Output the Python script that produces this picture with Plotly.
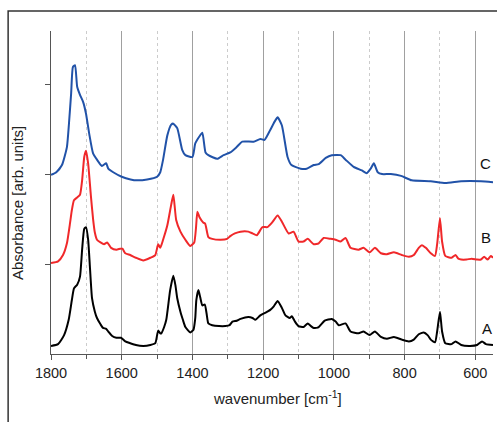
import plotly.graph_objects as go

# ---- data (wavenumber in cm^-1, absorbance with stacking offsets as plotted) ----
wn_a = [1800, 1780, 1763, 1750, 1741, 1735, 1726, 1718, 1712, 1706, 1701, 1695, 1690, 1684, 1676, 1670,
        1660, 1653, 1644, 1638, 1627, 1615, 1602, 1590, 1576, 1560, 1539, 1519, 1505, 1497, 1491, 1488,
        1480, 1474, 1463, 1454, 1448, 1443, 1434, 1427, 1420, 1406, 1397, 1392, 1389, 1383, 1378, 1372,
        1365, 1360, 1355, 1344, 1325, 1307, 1295, 1287, 1275, 1264, 1242, 1230, 1222, 1208, 1193, 1180,
        1170, 1159, 1148, 1137, 1125, 1119, 1110, 1100, 1086, 1074, 1065, 1057, 1043, 1026, 1006, 995,
        986, 967, 953, 930, 916, 899, 884, 867, 850, 830, 808, 788, 774, 760, 746, 735, 726, 714, 708,
        700, 694, 685, 667, 656, 640, 615, 595, 581, 570, 550]
abs_a = [0.09, 0.11, 0.21, 0.38, 0.60, 0.73, 0.77, 0.86, 1.16, 1.39, 1.41, 1.27, 0.97, 0.62, 0.47, 0.40,
         0.33, 0.29, 0.28, 0.25, 0.20, 0.18, 0.18, 0.14, 0.12, 0.10, 0.09, 0.10, 0.12, 0.26, 0.23, 0.23,
         0.30, 0.38, 0.71, 0.87, 0.76, 0.62, 0.47, 0.38, 0.30, 0.24, 0.27, 0.40, 0.60, 0.71, 0.63, 0.54,
         0.55, 0.45, 0.34, 0.32, 0.31, 0.31, 0.32, 0.36, 0.37, 0.39, 0.41, 0.40, 0.38, 0.43, 0.46, 0.49,
         0.53, 0.59, 0.52, 0.43, 0.40, 0.42, 0.36, 0.31, 0.30, 0.34, 0.31, 0.29, 0.30, 0.37, 0.39, 0.36,
         0.32, 0.34, 0.25, 0.23, 0.25, 0.21, 0.25, 0.19, 0.17, 0.19, 0.16, 0.14, 0.16, 0.22, 0.24, 0.21,
         0.16, 0.13, 0.25, 0.47, 0.25, 0.12, 0.11, 0.14, 0.10, 0.09, 0.10, 0.14, 0.11, 0.10]

wn_b = [1800, 1780, 1766, 1755, 1746, 1741, 1735, 1726, 1718, 1712, 1706, 1701, 1695, 1687, 1681, 1676,
        1670, 1660, 1650, 1641, 1630, 1615, 1604, 1598, 1590, 1576, 1560, 1539, 1519, 1505, 1497, 1491,
        1483, 1471, 1460, 1454, 1446, 1434, 1420, 1406, 1395, 1390, 1386, 1380, 1369, 1364, 1355, 1344,
        1320, 1302, 1293, 1280, 1264, 1242, 1230, 1218, 1202, 1188, 1175, 1159, 1147, 1128, 1114, 1100,
        1086, 1074, 1057, 1043, 1029, 1009, 995, 981, 967, 953, 930, 916, 899, 884, 867, 850, 830, 808,
        788, 774, 760, 751, 740, 726, 714, 708, 700, 694, 685, 667, 656, 648, 640, 625, 610, 595, 584,
        575, 565, 556, 550]
abs_b = [1.01, 1.03, 1.10, 1.23, 1.46, 1.60, 1.71, 1.74, 1.77, 1.93, 2.19, 2.26, 2.12, 1.75, 1.50, 1.35,
         1.27, 1.24, 1.22, 1.24, 1.18, 1.16, 1.17, 1.17, 1.12, 1.10, 1.07, 1.04, 1.07, 1.10, 1.22, 1.18,
         1.27, 1.43, 1.66, 1.77, 1.49, 1.36, 1.27, 1.20, 1.24, 1.40, 1.58, 1.52, 1.46, 1.45, 1.30, 1.28,
         1.27, 1.28, 1.31, 1.34, 1.36, 1.36, 1.34, 1.32, 1.41, 1.41, 1.46, 1.54, 1.47, 1.34, 1.36, 1.25,
         1.25, 1.28, 1.22, 1.23, 1.29, 1.28, 1.27, 1.25, 1.29, 1.18, 1.16, 1.18, 1.13, 1.18, 1.12, 1.11,
         1.13, 1.10, 1.08, 1.10, 1.18, 1.21, 1.18, 1.12, 1.09, 1.22, 1.51, 1.25, 1.09, 1.07, 1.10, 1.06,
         1.05, 1.05, 1.06, 1.05, 1.05, 1.08, 1.05, 1.09, 1.07]

wn_c = [1800, 1785, 1769, 1755, 1749, 1743, 1738, 1732, 1726, 1718, 1709, 1701, 1692, 1681, 1670, 1656,
        1644, 1638, 1624, 1600, 1575, 1557, 1528, 1500, 1491, 1483, 1471, 1460, 1454, 1443, 1429, 1420,
        1400, 1392, 1380, 1372, 1363, 1355, 1330, 1312, 1293, 1275, 1259, 1227, 1208, 1196, 1180, 1168,
        1159, 1147, 1131, 1120, 1094, 1077, 1057, 1043, 1023, 1006, 981, 967, 944, 921, 907, 896, 887,
        876, 864, 839, 810, 780, 726, 685, 640, 584, 550]
abs_c = [1.99, 2.02, 2.10, 2.30, 2.57, 2.90, 3.19, 3.21, 2.97, 2.88, 2.80, 2.67, 2.45, 2.23, 2.16, 2.09,
         2.12, 2.06, 2.02, 1.97, 1.94, 1.93, 1.94, 1.97, 2.02, 2.16, 2.43, 2.55, 2.56, 2.51, 2.27, 2.21,
         2.19, 2.34, 2.42, 2.46, 2.24, 2.21, 2.17, 2.21, 2.24, 2.30, 2.36, 2.36, 2.39, 2.38, 2.49, 2.58,
         2.63, 2.54, 2.19, 2.10, 2.06, 2.06, 2.10, 2.11, 2.18, 2.21, 2.21, 2.16, 2.08, 2.04, 2.01, 2.06,
         2.12, 2.02, 2.00, 2.00, 1.98, 1.93, 1.92, 1.90, 1.92, 1.92, 1.91]

series_labels = ["A", "B", "C"]
label_pos_x = [566, 571, 571]
label_pos_y = [0.28, 1.30, 2.12]
x_tick_vals = [1800, 1600, 1400, 1200, 1000, 800, 600]
y_tick_vals = [1, 2, 3]
x_title = "wavenumber [cm<sup>-1</sup>]"
y_title = "Absorbance [arb. units]"

FONT = "Liberation Sans, Arial, sans-serif"

fig = go.Figure()
for wn, ab, col in [(wn_a, abs_a, "#000000"), (wn_b, abs_b, "#f0282a"), (wn_c, abs_c, "#2152a8")]:
    fig.add_trace(go.Scatter(x=wn, y=ab, mode="lines",
                             line=dict(color=col, width=2, shape="spline", smoothing=0.5),
                             showlegend=False, hoverinfo="skip"))

for lab, lx, ly in zip(series_labels, label_pos_x, label_pos_y):
    fig.add_annotation(x=lx, y=ly, xref="x", yref="y", text=lab, showarrow=False,
                       font=dict(family=FONT, size=15, color="#111"))

# axis titles as annotations for exact placement
fig.add_annotation(x=0.5124, y=-0.136, xref="paper", yref="paper", text=x_title, showarrow=False,
                   xanchor="center", yanchor="middle", font=dict(family=FONT, size=15, color="#222"))
fig.add_annotation(x=-0.0747, y=0.4675, xref="paper", yref="paper", text=y_title, showarrow=False,
                   textangle=-90, xanchor="center", yanchor="middle",
                   font=dict(family=FONT, size=15, color="#222"))

# outer frame
fig.add_shape(type="rect", xref="paper", yref="paper", x0=-0.097, x1=1.2, y0=-0.5, y1=1.062,
              line=dict(color="#333333", width=1.5), fillcolor="rgba(0,0,0,0)", layer="below")

fig.update_layout(
    width=497, height=422,
    margin=dict(l=51, r=4, t=31, b=68),
    paper_bgcolor="white", plot_bgcolor="white",
    font=dict(family=FONT, size=14, color="#222"),
    xaxis=dict(
        range=[1800, 550], tickvals=x_tick_vals,
        ticks="outside", ticklen=5, tickcolor="#555", tickwidth=1,
        showline=True, linecolor="#555", linewidth=1.2,
        showgrid=True, gridcolor="#a0a0a0", gridwidth=1,
        minor=dict(dtick=200, tick0=1700, showgrid=True, gridcolor="#cccccc", griddash="dot",
                   gridwidth=1, ticks="outside", ticklen=4, tickcolor="#555"),
        zeroline=False,
        tickfont=dict(size=14.5),
    ),
    yaxis=dict(
        range=[0, 3.59], tickvals=y_tick_vals, showticklabels=False,
        ticks="outside", ticklen=5, tickcolor="#555",
        showline=True, linecolor="#555", linewidth=1.2,
        showgrid=False, zeroline=False,
    ),
)

fig.write_html("out.html", config={"displayModeBar": False},
               post_script="document.body.style.margin='0';document.body.style.overflow='hidden';")
